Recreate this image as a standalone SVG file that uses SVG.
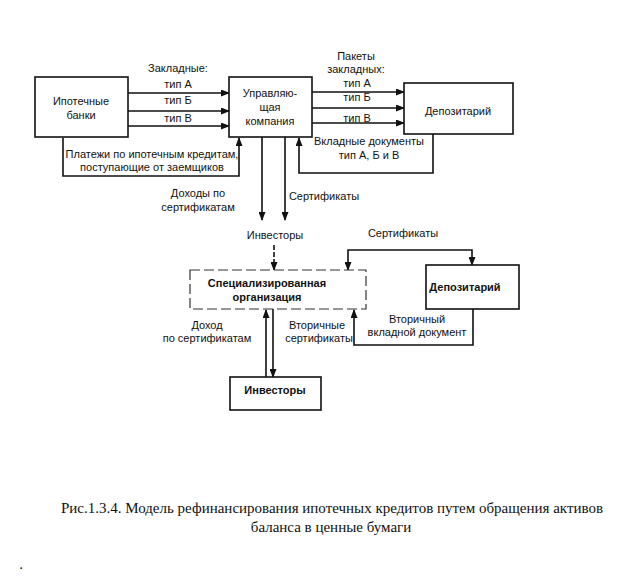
<svg xmlns="http://www.w3.org/2000/svg" width="629" height="578" viewBox="0 0 629 578">
<defs>
<marker id="ah" markerUnits="userSpaceOnUse" markerWidth="9" markerHeight="7" refX="8" refY="3.5" orient="auto-start-reverse">
<path d="M0,0 L9,3.5 L0,7 z" fill="#111"/>
</marker>
<style>
.box{fill:#fff;stroke:#111;stroke-width:1.6}
.dash{fill:#fff;stroke:#333;stroke-width:1.2;stroke-dasharray:10 4}
.ln{fill:none;stroke:#111;stroke-width:1.6}
.ar{marker-end:url(#ah)}
.t{font-family:"Liberation Sans",Arial,sans-serif;font-size:11px;fill:#111;text-anchor:middle}
.cap{font-family:"Liberation Serif","Times New Roman",serif;font-size:15px;fill:#111;text-anchor:middle}
</style>
</defs>
<rect width="629" height="578" fill="#fff"/>

<g id="connectors">
<path class="ln ar" d="M128,93 H229"/>
<path class="ln ar" d="M128,111 H229"/>
<path class="ln ar" d="M128,126 H229"/>
<path class="ln ar" d="M63,138 V176 H239 V138"/>
<path class="ln ar" d="M312,92 H404"/>
<path class="ln ar" d="M312,108 H404"/>
<path class="ln ar" d="M312,123 H404"/>
<path class="ln ar" d="M433,134 V173 H299 V138"/>
<path class="ln ar" d="M262,137 V220"/>
<path class="ln ar" d="M285,137 V220"/>
<path class="ln ar" d="M274,245 V270" stroke-dasharray="5 2"/>
<path class="ln ar" d="M348,270 V250 H472 V265" marker-start="url(#ah)"/>
<path class="ln ar" d="M473,309 V345 H354 V310"/>
<path class="ln ar" d="M266,377 V310"/>
<path class="ln ar" d="M273,309 V377"/>
</g>

<g id="labels">
<text class="t" x="178" y="72">Закладные:</text>
<text class="t" x="178" y="88">тип А</text>
<text class="t" x="178" y="104">тип Б</text>
<text class="t" x="178" y="122">тип В</text>
<text class="t" x="152" y="158">Платежи по ипотечным кредитам,</text>
<text class="t" x="152" y="171">поступающие от заемщиков</text>
<text class="t" x="356" y="60">Пакеты</text>
<text class="t" x="356" y="73">закладных:</text>
<text class="t" x="357" y="87">тип А</text>
<text class="t" x="357" y="101">тип Б</text>
<text class="t" x="357" y="122">тип В</text>
<text class="t" x="369" y="145">Вкладные документы</text>
<text class="t" x="369" y="159">тип А, Б и В</text>
<text class="t" x="198" y="197">Доходы по</text>
<text class="t" x="198" y="211">сертификатам</text>
<text class="t" x="324" y="200">Сертификаты</text>
<text class="t" x="275" y="239">Инвесторы</text>
<text class="t" x="403" y="237">Сертификаты</text>
<text class="t" x="207" y="329">Доход</text>
<text class="t" x="207" y="342">по сертификатам</text>
<text class="t" x="317" y="329">Вторичные</text>
<text class="t" x="319" y="342">сертификаты</text>
<text class="t" x="417" y="323">Вторичный</text>
<text class="t" x="417" y="336">вкладной документ</text>
</g>

<g id="n-banks">
<rect class="box" x="35" y="77" width="93" height="60"/>
<text class="t" x="81" y="105">Ипотечные</text>
<text class="t" x="81" y="119">банки</text>
</g>
<g id="n-manager">
<rect class="box" x="229" y="77" width="83" height="60"/>
<text class="t" x="270" y="97">Управляю-</text>
<text class="t" x="270" y="111">щая</text>
<text class="t" x="270" y="125">компания</text>
</g>
<g id="n-depo1">
<rect class="box" x="404" y="83" width="109" height="51"/>
<text class="t" x="458" y="115">Депозитарий</text>
</g>
<g id="n-spec">
<rect class="dash" x="190" y="270" width="176" height="39"/>
<text class="t" x="267" y="287" font-weight="bold">Специализированная</text>
<text class="t" x="267" y="301" font-weight="bold">организация</text>
</g>
<g id="n-depo2">
<rect class="box" x="426" y="265" width="93" height="44"/>
<text class="t" x="465" y="291" font-weight="bold">Депозитарий</text>
</g>
<g id="n-investors">
<rect class="box" x="230" y="377" width="91" height="33"/>
<text class="t" x="275" y="394" font-weight="bold">Инвесторы</text>
</g>

<g id="caption">
<text class="cap" x="332" y="513">Рис.1.3.4. Модель рефинансирования ипотечных кредитов путем обращения активов</text>
<text class="cap" x="331" y="532">баланса в ценные бумаги</text>
<text class="cap" x="21" y="569" text-anchor="start">.</text>
</g>
</svg>
